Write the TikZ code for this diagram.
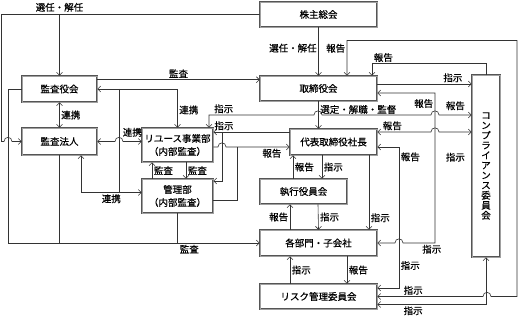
\documentclass[tikz,border=0pt]{standalone}
\usepackage{fontspec}
\newfontfamily\jpfont[FakeBold=0.5]{Noto Sans CJK JP}
\usetikzlibrary{arrows.meta}
\definecolor{edgegray}{RGB}{85,85,85}
\definecolor{framegray}{RGB}{160,160,160}

\begin{document}
\begin{tikzpicture}[
  x=1pt, y=-1pt,
  box/.style={draw=edgegray, line width=0.55pt, double=framegray, double distance=0.8pt, fill=white, inner sep=0pt, align=center, font=\jpfont\fontsize{9.5}{13}\selectfont},
  lbl/.style={font=\jpfont\fontsize{9.5}{10}\selectfont, inner sep=1.5pt},
  link/.style={draw=black!80, line width=0.6pt},
  arr/.style={link, -{Straight Barb[length=3pt,width=6pt]}},
  both/.style={link, {Straight Barb[length=3pt,width=6pt]}-{Straight Barb[length=3pt,width=6pt]}},
  hop/.style={insert path={.. controls +(0,-5.5) and +(0,-5.5) .. +(8,0)}},
  hopl/.style={insert path={.. controls +(0,-5.5) and +(0,-5.5) .. +(-8,0)}}
]
  \useasboundingbox (0,0) rectangle (519,318);

  \node[box, minimum width=117pt, minimum height=25pt] (sokai) at (318.5,14.5) {株主総会};
  \node[box, minimum width=117pt, minimum height=25pt] (torishimari) at (318.5,88.5) {取締役会};
  \node[box, minimum width=75pt, minimum height=26pt] (kansayaku) at (59.5,89) {監査役会};
  \node[box, minimum width=75pt, minimum height=27pt] (kansahojin) at (59.5,141.5) {監査法人};
  \node[box, minimum width=71pt, minimum height=34pt] (reuse) at (177.5,145) {リユース事業部\\（内部監査）};
  \node[box, minimum width=71pt, minimum height=34pt] (kanri) at (177.5,196) {管理部\\（内部監査）};
  \node[box, minimum width=87pt, minimum height=26pt] (shacho) at (333.5,142) {代表取締役社長};
  \node[box, minimum width=87pt, minimum height=25pt] (shikko) at (303.5,191.5) {執行役員会};
  \node[box, minimum width=117pt, minimum height=26pt] (kakubu) at (318.5,243) {各部門・子会社};
  \node[box, minimum width=117pt, minimum height=25pt] (risk) at (318.5,296.5) {リスク管理委員会};
  \node[box, minimum width=28pt, minimum height=182pt, font=\jpfont\fontsize{9.5}{10}\selectfont] (comp) at (486,166) {コ\\ン\\プ\\ラ\\イ\\ア\\ン\\ス\\委\\員\\会};

  \coordinate (jA) at (119,89);
  \coordinate (jB) at (119,192.5);
  \coordinate (jC) at (222,132);
  \coordinate (jD) at (237,147);

  % shareholders
  \draw[arr] (sokai.west) -- (1.5,14.5) -- (1.5,141.5) -- (4,141.5) [hop] -- (kansahojin.west);
  \draw[arr] (kansayaku.north |- sokai.west) node[lbl, above=1pt] {選任・解任} -- (kansayaku.north);
  \draw[arr] (sokai.south) -- node[lbl, left, pos=0.43] {選任・解任} (torishimari.north);
  \draw[both] (risk.east) -- node[lbl, above, pos=0.34] {指示} (483,296.5) [hop] -- (517,296.5) -- (517,40.5) -- (347,40.5) -- node[lbl, left, pos=0.22] {報告} ([xshift=28.5pt]torishimari.north);

  % audit side
  \draw[arr] ([yshift=-4pt]kansayaku.north east) -- node[lbl, above] {監査} ([yshift=-4pt]torishimari.north west);
  \draw[both] (kansayaku.south) -- node[lbl, right] {連携} (kansahojin.north);
  \draw[arr] (kansayaku.west) -- (8,89) -- (8,243) -- node[lbl, below, pos=0.72] {監査} (kakubu.west);
  \draw[link] (kansahojin.south) -- (kansahojin.south |- kakubu.west);
  \draw[link] (kanri.south) -- (kanri.south |- kakubu.west);
  \draw[both] (kansayaku.east) -| node[lbl, right, pos=0.77] {連携} (reuse.north);
  \draw[link] (jA) -- (jB);
  \draw[both] ([xshift=21.5pt]kansahojin.south) |- node[lbl, below, pos=0.75] {連携} ([yshift=3.5pt]kanri.west);
  \draw[both] (kansahojin.east) -- (115,141.5) [hop] -- node[lbl, above=3pt] {連携} (reuse.west |- kansahojin.east);
  \draw[arr] ([xshift=-25.5pt]kanri.north) -- node[lbl, right] {監査} ([xshift=-25.5pt]reuse.south);
  \draw[arr] ([xshift=8.5pt]reuse.south) -- node[lbl, right] {監査} ([xshift=8.5pt]kanri.north);

  % board and president
  \draw[both] ([xshift=31.5pt]reuse.north) -- (209,115) -- node[lbl, above, pos=0.14] {指示} (314,115) [hop] -- (431,115) [hop] -- node[lbl, above=3pt] {報告} ([yshift=51pt]comp.west);
  \draw[arr] ([yshift=10pt]shacho.west) -- node[lbl, above, pos=0.86] {指示} ([yshift=13pt]reuse.east);
  \draw[arr] (jC) |- ([yshift=15pt]kanri.east);
  \draw[arr] (torishimari.south) -- node[lbl, right, pos=0.3] {選定・解職・監督} (torishimari.south |- shacho.north);
  \draw[arr] ([yshift=-2pt]reuse.east) -- (218,147) [hop] -- node[lbl, below, pos=0.72] {報告} ([yshift=-5pt]shacho.west);
  \draw[link] ([yshift=-4pt]kanri.east) -| (jD);
  \draw[arr] ([yshift=4.5pt]torishimari.east) -- node[lbl, above, pos=0.8] {指示} ([yshift=82pt]comp.west);
  \draw[arr] (comp.north) -- ++(0,-11) -| node[lbl, above right, pos=0.5] {報告} ([xshift=53.5pt]torishimari.north);
  \draw[both] ([yshift=-4.5pt]torishimari.east) -- (435,93) -- node[lbl, left, pos=0.07] {報告} (435,243) -- node[lbl, below, pos=0.1] {指示} (403,243) [hopl] -- (kakubu.east);
  \draw[both] ([yshift=10pt]shacho.east) -- node[lbl, above, pos=0.28] {報告} (431,132) [hop] -- node[lbl, below=19pt] {指示} ([yshift=34pt]comp.west);
  \draw[both] ([yshift=-5pt]shacho.east) -- (399,147) -- node[lbl, right, pos=0.07] {報告} node[lbl, right, pos=0.84] {指示} (399,288) -- ([yshift=8.5pt]risk.east);

  % executives and departments
  \draw[arr] ([xshift=35.5pt]shacho.south) -- node[lbl, right, pos=0.84] {指示} ([xshift=50.5pt]kakubu.north);
  \draw[arr] ([xshift=-10.5pt]shikko.north) -- node[lbl, right] {報告} ([xshift=-40.5pt]shacho.south);
  \draw[arr] ([xshift=-11.5pt]shacho.south) -- node[lbl, right] {指示} ([xshift=18.5pt]shikko.north);
  \draw[arr] ([xshift=-28.5pt]kakubu.north) -- node[lbl, left] {報告} ([xshift=-13.5pt]shikko.south);
  \draw[arr] ([xshift=14.5pt]shikko.south) -- node[lbl, right] {指示} (kakubu.north);
  \draw[arr] ([xshift=-28.5pt]risk.north) -- node[lbl, right] {指示} ([xshift=-28.5pt]kakubu.south);
  \draw[arr] ([xshift=28.5pt]kakubu.south) -- node[lbl, right] {報告} ([xshift=28.5pt]risk.north);
  \draw[both] (comp.south) -- (486,304.5) -- node[lbl, below, pos=0.67] {指示} ([yshift=-8pt]risk.east);
\end{tikzpicture}
\end{document}
